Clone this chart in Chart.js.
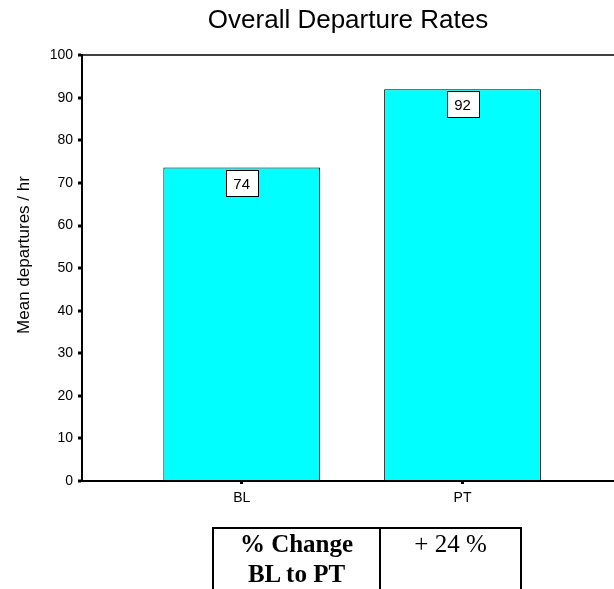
<!DOCTYPE html>
<html>
<head>
<meta charset="utf-8">
<script src="https://cdn.jsdelivr.net/npm/chart.js@4.4.1/dist/chart.umd.min.js"></script>
<style>
  body { margin: 0; background: #fff; }
  #wrap { position: relative; width: 614px; height: 589px; }
  #changeTable {
    position: absolute; left: 212px; top: 527px;
    border-collapse: separate; border-spacing: 0;
    font-family: "Liberation Serif", "Times New Roman", serif;
    font-size: 25px; color: #000;
  }
  #changeTable td {
    padding: 0; vertical-align: top; text-align: center;
    line-height: 30px; height: 58px;
    border-top: 2px solid #000; border-bottom: 2px solid #000; border-right: 2px solid #000;
  }
  #changeTable td.lab { border-left: 2px solid #000; width: 165px; font-weight: bold; }
  #changeTable td.val { width: 139px; }
</style>
</head>
<body>
<div id="wrap">
  <canvas id="myChart"></canvas>
  <table id="changeTable">
    <tr><td class="lab">% Change<br>BL to PT</td><td class="val" id="pctCell"></td></tr>
  </table>
</div>
<script>
const categories = ['BL', 'PT'];
const categoryPositions = [1, 2];
const meanDepartures = [73.6, 92];
const yTicks = [0, 10, 20, 30, 40, 50, 60, 70, 80, 90, 100];
const pctChange = 24;

document.getElementById('pctCell').textContent = '+ ' + pctChange + ' %';

const ctx = document.getElementById('myChart');

// white boxes with the rounded value near the top of each bar
const valueBoxes = {
    id: 'valueBoxes',
    afterDatasetsDraw(chart) {
        const c = chart.ctx;
        const meta = chart.getDatasetMeta(0);
        c.save();
        c.font = '15px "Liberation Sans", Arial, sans-serif';
        c.textAlign = 'center';
        c.textBaseline = 'middle';
        meta.data.forEach((bar, i) => {
            const w = 32, h = 26;
            const x = Math.round(bar.x - w / 2) + 0.5;
            const y = Math.round(bar.y + 2) + 0.5;
            c.fillStyle = '#fff';
            c.fillRect(x, y, w, h);
            c.strokeStyle = '#000';
            c.lineWidth = 1;
            c.strokeRect(x, y, w, h);
            c.fillStyle = '#000';
            c.fillText(Math.round(meanDepartures[i]), bar.x, y + h / 2 + 1);
        });
        c.restore();
    }
};

// y axis title, sits a bit above the middle of the axis in the original
const yTitle = {
    id: 'yTitle',
    afterDraw(chart) {
        const c = chart.ctx;
        c.save();
        c.translate(24, 255);
        c.rotate(-Math.PI / 2);
        c.font = '17px "Liberation Sans", Arial, sans-serif';
        c.fillStyle = '#000';
        c.textAlign = 'center';
        c.textBaseline = 'middle';
        c.fillText('Mean departures / hr', 0, 0);
        c.restore();
    }
};

const myChart = new Chart(ctx, {
    type: 'bar',
    data: {
        datasets: [{
            data: categoryPositions.map((x, i) => ({ x: x, y: meanDepartures[i] })),
            backgroundColor: '#00ffff',
            borderColor: '#000',
            borderWidth: 1,
            categoryPercentage: 1,
            barPercentage: 0.71
        }]
    },
    options: {
        responsive: true,
        maintainAspectRatio: false,
        animation: false,
        devicePixelRatio: 1,
        layout: { padding: 0 },
        plugins: {
            legend: { display: false },
            tooltip: { enabled: false },
            title: {
                display: true,
                text: 'Overall Departure Rates',
                fullSize: false,
                color: '#000',
                font: { family: '"Liberation Sans", Arial, sans-serif', size: 26, weight: 'normal', lineHeight: 1.2 },
                padding: { top: 5, bottom: 19 }
            }
        },
        scales: {
            x: {
                type: 'linear',
                offset: false,
                min: 0.2767,
                max: 2.686,
                afterBuildTicks: scale => { scale.ticks = categoryPositions.map(v => ({ value: v })); },
                afterFit: scale => { scale.height = 108; },
                ticks: {
                    color: '#000',
                    padding: 6,
                    maxRotation: 0,
                    font: { family: '"Liberation Sans", Arial, sans-serif', size: 14 },
                    callback: value => categories[categoryPositions.indexOf(value)]
                },
                grid: {
                    offset: false,
                    drawOnChartArea: false,
                    drawTicks: true,
                    tickLength: 3,
                    tickWidth: 3,
                    tickColor: '#000'
                },
                border: { display: true, color: '#000', width: 2 }
            },
            y: {
                min: 0,
                max: 100,
                afterBuildTicks: scale => { scale.ticks = yTicks.map(v => ({ value: v })); },
                afterFit: scale => { scale.width = 82; },
                ticks: {
                    color: '#000',
                    padding: 5,
                    font: { family: '"Liberation Sans", Arial, sans-serif', size: 14 }
                },
                grid: {
                    drawOnChartArea: true,
                    color: c => c.tick && c.tick.value === 100 ? '#404040' : 'rgba(0,0,0,0)',
                    lineWidth: 2,
                    drawTicks: true,
                    tickLength: 4,
                    tickWidth: 3,
                    tickColor: '#000'
                },
                border: { display: true, color: '#000', width: 2 }
            }
        }
    },
    plugins: [valueBoxes, yTitle]
});
</script>
</body>
</html>
